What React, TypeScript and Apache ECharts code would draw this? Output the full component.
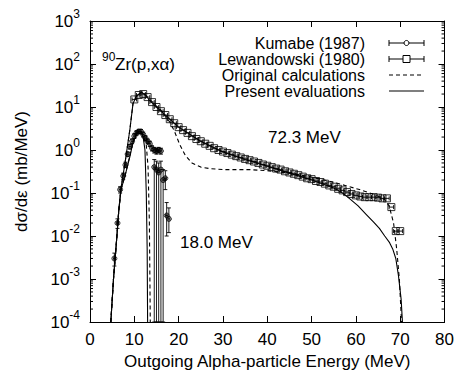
import React, { useEffect, useRef } from "react";
import * as echarts from "echarts";

const FONT = '"Liberation Sans", Arial, Helvetica, sans-serif';

// Lewandowski (1980), 72.3 MeV data (squares)
const lewEnergy = [10, 11, 12, 13, 14, 15, 16, 17, 18, 19, 20, 21, 22, 23, 24, 25, 26, 27, 28, 29, 30, 31, 32, 33, 34, 35, 36, 37, 38, 39, 40, 41, 42, 43, 44, 45, 46, 47, 48, 49, 50, 51, 52, 53, 54, 55, 56, 57, 58, 59, 60, 61, 62, 63, 64, 65, 66, 67, 68, 69, 70];
const lewValue = [15, 19, 20, 17, 13, 10, 8, 6.5, 5.2, 4.2, 3.4, 2.9, 2.5, 2.1, 1.8, 1.6, 1.4, 1.25, 1.1, 1.0, 0.92, 0.85, 0.78, 0.72, 0.67, 0.62, 0.58, 0.54, 0.5, 0.46, 0.43, 0.4, 0.37, 0.35, 0.32, 0.3, 0.28, 0.26, 0.24, 0.22, 0.21, 0.19, 0.18, 0.165, 0.15, 0.14, 0.125, 0.115, 0.105, 0.095, 0.088, 0.083, 0.08, 0.08, 0.08, 0.078, 0.075, 0.075, 0.047, 0.013, 0.013];
const lewHalfWidth = 0.5;

// Kumabe (1987), 18.0 MeV data (circles)
const kumEnergy = [5.5, 6.2, 6.8, 7.5, 8.0, 8.5, 9.0, 9.5, 10.0, 10.5, 11.0, 11.5, 12.0, 12.5, 13.0, 13.5, 14.0, 14.5, 15.0, 15.5, 16.0, 14.5, 15.0, 15.5, 16.0, 16.5, 17.0, 17.3, 17.8];
const kumValue = [0.003, 0.02, 0.12, 0.25, 0.45, 0.8, 1.2, 1.6, 2.1, 2.5, 2.7, 2.7, 2.3, 1.9, 1.6, 1.4, 1.1, 1.0, 0.95, 1.0, 0.95, 0.4, 0.35, 0.3, 0.35, 0.2, 0.22, 0.03, 0.025];
const kumLow = [0.002, 0.015, 0.1, 0.21, 0.39, 0.7, 1.05, 1.4, 1.85, 2.2, 2.4, 2.4, 2.0, 1.65, 1.4, 1.2, 0.95, 0.85, 0.8, 0.85, 0.8, 1e-4, 1e-4, 1e-4, 1e-4, 1e-4, 0.12, 0.01, 0.012];
const kumHigh = [0.004, 0.025, 0.14, 0.29, 0.52, 0.9, 1.35, 1.8, 2.4, 2.8, 3.0, 3.0, 2.6, 2.15, 1.8, 1.6, 1.25, 1.15, 1.1, 1.15, 1.1, 0.6, 0.55, 0.5, 0.55, 0.35, 0.33, 0.06, 0.045];
const kumHalfWidth = 0.25;

// Present evaluations (solid)
const eval72Energy = [4.7, 5.3, 6.0, 6.5, 7.0, 7.9, 9.0, 9.7, 10.5, 11.6, 12.5, 13.5, 15, 16, 18, 20, 25, 30, 35, 40, 45, 50, 55, 57, 58.5, 60.5, 62.3, 64, 65.3, 66.5, 67.6, 68.3, 69.0, 69.6, 70.2, 70.5];
const eval72Value = [1e-4, 1e-3, 0.008, 0.04, 0.13, 0.5, 3, 12, 18, 22, 19, 14, 10, 8, 5.2, 3.4, 1.6, 0.9, 0.6, 0.42, 0.29, 0.2, 0.13, 0.1, 0.075, 0.05, 0.032, 0.021, 0.015, 0.01, 0.007, 0.005, 0.003, 0.0012, 3.4e-4, 1e-4];
const eval18Energy = [4.7, 5.3, 6.0, 6.5, 7.0, 7.9, 9.0, 9.7, 10.5, 11.3, 12.0, 12.4, 12.7, 12.9, 13.0];
const eval18Value = [1e-4, 1e-3, 0.008, 0.04, 0.12, 0.25, 0.7, 1.5, 2.3, 2.8, 2.0, 1.0, 0.1, 0.005, 1e-4];

// Original calculations (dashed)
const orig72Energy = [4.7, 5.3, 6.0, 6.5, 7.0, 7.9, 9.0, 9.7, 10.5, 11.6, 12.5, 13.5, 15, 16, 17, 18, 19, 20.3, 21.5, 23, 25, 27, 30, 33, 36, 40, 45, 49.5, 54.8, 60.8, 63.8, 65.5, 66.5, 67.5, 68.5, 69.2, 69.8, 70.3];
const orig72Value = [1e-4, 1e-3, 0.008, 0.04, 0.13, 0.5, 3, 12, 18, 22, 19, 15, 10.5, 8.5, 6, 4.5, 2.8, 1.3, 0.75, 0.5, 0.4, 0.37, 0.35, 0.35, 0.35, 0.33, 0.29, 0.24, 0.18, 0.12, 0.095, 0.08, 0.07, 0.05, 0.02, 0.005, 0.001, 1e-4];
const orig18Energy = [4.7, 5.3, 6.0, 6.5, 7.0, 7.9, 9.0, 9.7, 10.5, 11.3, 12.0, 12.7, 13.1, 13.4, 13.6];
const orig18Value = [1e-4, 1e-3, 0.008, 0.04, 0.12, 0.25, 0.75, 1.6, 2.4, 2.7, 2.2, 1.3, 0.4, 0.02, 1e-4];

const legendLabels = ["Kumabe (1987)", "Lewandowski (1980)", "Original calculations", "Present evaluations"];
const xLabel = "Outgoing Alpha-particle Energy (MeV)";
const yLabel = "dσ/dε (mb/MeV)";
const reactionMass = "90";
const reactionText = "Zr(p,xα)";
const label72 = "72.3 MeV";
const label18 = "18.0 MeV";
const yMinorMantissas = [2, 3, 4, 5, 6, 7, 8, 9];

export default function App() {
  const ref = useRef<HTMLDivElement>(null);
  useEffect(() => {
    document.body.style.margin = "0";
    const chart = echarts.init(ref.current as HTMLDivElement, null, { renderer: "svg" });
    const pair = (xs: number[], ys: number[]) => xs.map((x, i) => [x, ys[i]]);
    const minorVals: number[][] = [];
    for (let k = -4; k < 3; k++) for (const m of yMinorMantissas) minorVals.push([0, m * Math.pow(10, k)]);
    const lewErr = lewEnergy.map((e, i) => [e, lewValue[i], e - lewHalfWidth, e + lewHalfWidth, lewValue[i], lewValue[i]]);
    const kumErr = kumEnergy.map((e, i) => [e, kumValue[i], e - kumHalfWidth, e + kumHalfWidth, kumLow[i], kumHigh[i]]);
    const st = { stroke: "#000", lineWidth: 0.9 };
    const errRender = (params: any, api: any) => {
      const x = api.value(0), y = api.value(1);
      const l = api.coord([api.value(2), y]), r = api.coord([api.value(3), y]);
      const b = api.coord([x, api.value(4)]), t = api.coord([x, api.value(5)]);
      const cap = 2;
      const ch: any[] = [
        { type: "line", shape: { x1: l[0], y1: l[1], x2: r[0], y2: r[1] }, style: st },
        { type: "line", shape: { x1: l[0], y1: l[1] - cap, x2: l[0], y2: l[1] + cap }, style: st },
        { type: "line", shape: { x1: r[0], y1: r[1] - cap, x2: r[0], y2: r[1] + cap }, style: st },
      ];
      if (Math.abs(b[1] - t[1]) > 0.5) {
        ch.push({ type: "line", shape: { x1: b[0], y1: b[1], x2: t[0], y2: t[1] }, style: st });
        ch.push({ type: "line", shape: { x1: b[0] - cap, y1: b[1], x2: b[0] + cap, y2: b[1] }, style: st });
        ch.push({ type: "line", shape: { x1: t[0] - cap, y1: t[1], x2: t[0] + cap, y2: t[1] }, style: st });
      }
      return { type: "group", children: ch };
    };
    const minorRender = (params: any, api: any) => {
      const cs = params.coordSys;
      const y = api.coord([0, api.value(1)])[1];
      const s = { stroke: "#000", lineWidth: 1 };
      return {
        type: "group",
        children: [
          { type: "line", shape: { x1: cs.x, y1: y, x2: cs.x + 3, y2: y }, style: s },
          { type: "line", shape: { x1: cs.x + cs.width, y1: y, x2: cs.x + cs.width - 3, y2: y }, style: s },
        ],
      };
    };
    const axisLine = { show: true, onZero: false, lineStyle: { color: "#000", width: 1 } };
    const tick = { show: true, inside: true, length: 6, lineStyle: { color: "#000", width: 1 } };
    const lineStyleSolid = { color: "#000", width: 1.1 };
    const lineStyleDash = { color: "#000", width: 1.1, type: [4, 3] };
    const font17 = `17px ${FONT}`;
    const tx = (text: string, x: number, y: number, extra: any = {}) => ({
      type: "text", x, y, silent: true,
      style: { text, font: font17, fill: "#000", verticalAlign: "middle", textVerticalAlign: "middle", ...extra },
    });
    const rowY = [43, 59, 75, 91];
    const sx1 = 389, sx2 = 424, smid = 406.5;
    const ls = { stroke: "#000", lineWidth: 1 };
    const graphics: any[] = [];
    legendLabels.forEach((lab, i) => {
      graphics.push(tx(lab, 365, rowY[i], { align: "right", textAlign: "right", font: `16px ${FONT}`, lineHeight: 15 }));
    });
    for (let i = 0; i < 2; i++) {
      const y = rowY[i];
      graphics.push({ type: "line", shape: { x1: sx1, y1: y, x2: sx2, y2: y }, style: ls });
      graphics.push({ type: "line", shape: { x1: sx1, y1: y - 3, x2: sx1, y2: y + 3 }, style: ls });
      graphics.push({ type: "line", shape: { x1: sx2, y1: y - 3, x2: sx2, y2: y + 3 }, style: ls });
    }
    graphics.push({ type: "circle", shape: { cx: smid, cy: rowY[0], r: 2.5 }, style: { fill: "#fff", stroke: "#000", lineWidth: 1 } });
    graphics.push({ type: "rect", shape: { x: smid - 3.5, y: rowY[1] - 3.5, width: 7, height: 7 }, style: { fill: "#fff", stroke: "#000", lineWidth: 1 } });
    graphics.push({ type: "line", shape: { x1: sx1, y1: rowY[2], x2: sx2, y2: rowY[2] }, style: { stroke: "#000", lineWidth: 1.1, lineDash: [4, 3] } });
    graphics.push({ type: "line", shape: { x1: sx1, y1: rowY[3], x2: sx2, y2: rowY[3] }, style: { stroke: "#000", lineWidth: 1.1 } });
    graphics.push(tx(reactionMass, 102, 57, { font: `12px ${FONT}` }));
    graphics.push(tx(reactionText, 115, 64));
    graphics.push(tx(label72, 268, 137));
    graphics.push(tx(label18, 180, 242));

    chart.setOption({
      animation: false,
      backgroundColor: "#fff",
      textStyle: { fontFamily: FONT },
      grid: { left: 90, right: 12, top: 21, bottom: 52 },
      xAxis: [
        {
          type: "value", min: 0, max: 80, interval: 10, position: "bottom",
          axisLine, axisTick: tick, splitLine: { show: false },
          axisLabel: { color: "#000", fontSize: 17, fontFamily: FONT, margin: 9 },
          name: xLabel, nameLocation: "middle", nameGap: 31,
          nameTextStyle: { color: "#000", fontSize: 17, fontFamily: FONT },
        },
        {
          type: "value", min: 0, max: 80, interval: 10, position: "top",
          axisLine, axisTick: tick, splitLine: { show: false }, axisLabel: { show: false },
        },
      ],
      yAxis: [
        {
          type: "log", logBase: 10, min: 1e-4, max: 1e3, splitNumber: 7, position: "left",
          axisLine, axisTick: tick, splitLine: { show: false },
          axisLabel: {
            color: "#000", margin: 10,
            formatter: (v: number) => `{b|10}{e|${Math.round(Math.log10(v))}}`,
            rich: {
              b: { fontSize: 17, fontFamily: FONT, color: "#000" },
              e: { fontSize: 12, fontFamily: FONT, color: "#000", padding: [0, 0, 14, 0] },
            },
          },
          name: yLabel, nameLocation: "middle", nameGap: 60,
          nameTextStyle: { color: "#000", fontSize: 17, fontFamily: FONT },
        },
        {
          type: "log", logBase: 10, min: 1e-4, max: 1e3, splitNumber: 7, position: "right",
          axisLine, axisTick: tick, splitLine: { show: false }, axisLabel: { show: false },
        },
      ],
      series: [
        { type: "custom", renderItem: minorRender, data: minorVals, silent: true, z: 1 },
        { type: "line", data: pair(orig72Energy, orig72Value), showSymbol: false, symbol: "none", lineStyle: lineStyleDash, z: 2 },
        { type: "line", data: pair(orig18Energy, orig18Value), showSymbol: false, symbol: "none", lineStyle: lineStyleDash, z: 2 },
        { type: "line", data: pair(eval72Energy, eval72Value), showSymbol: false, symbol: "none", lineStyle: lineStyleSolid, z: 2 },
        { type: "line", data: pair(eval18Energy, eval18Value), showSymbol: false, symbol: "none", lineStyle: lineStyleSolid, z: 2 },
        { type: "custom", renderItem: errRender, data: lewErr, silent: true, z: 3 },
        { type: "custom", renderItem: errRender, data: kumErr, silent: true, z: 3 },
        {
          type: "scatter", data: pair(lewEnergy, lewValue), symbol: "rect", symbolSize: 7, z: 4,
          itemStyle: { color: "rgba(255,255,255,0)", borderColor: "#000", borderWidth: 1 },
        },
        {
          type: "scatter", data: pair(kumEnergy, kumValue), symbol: "circle", symbolSize: 5, z: 4,
          itemStyle: { color: "rgba(255,255,255,0)", borderColor: "#000", borderWidth: 1 },
        },
      ],
      graphic: graphics,
    });
    return () => chart.dispose();
  }, []);
  return <div ref={ref} style={{ position: "fixed", left: 0, top: 0, width: 457, height: 375, background: "#fff" }} />;
}
